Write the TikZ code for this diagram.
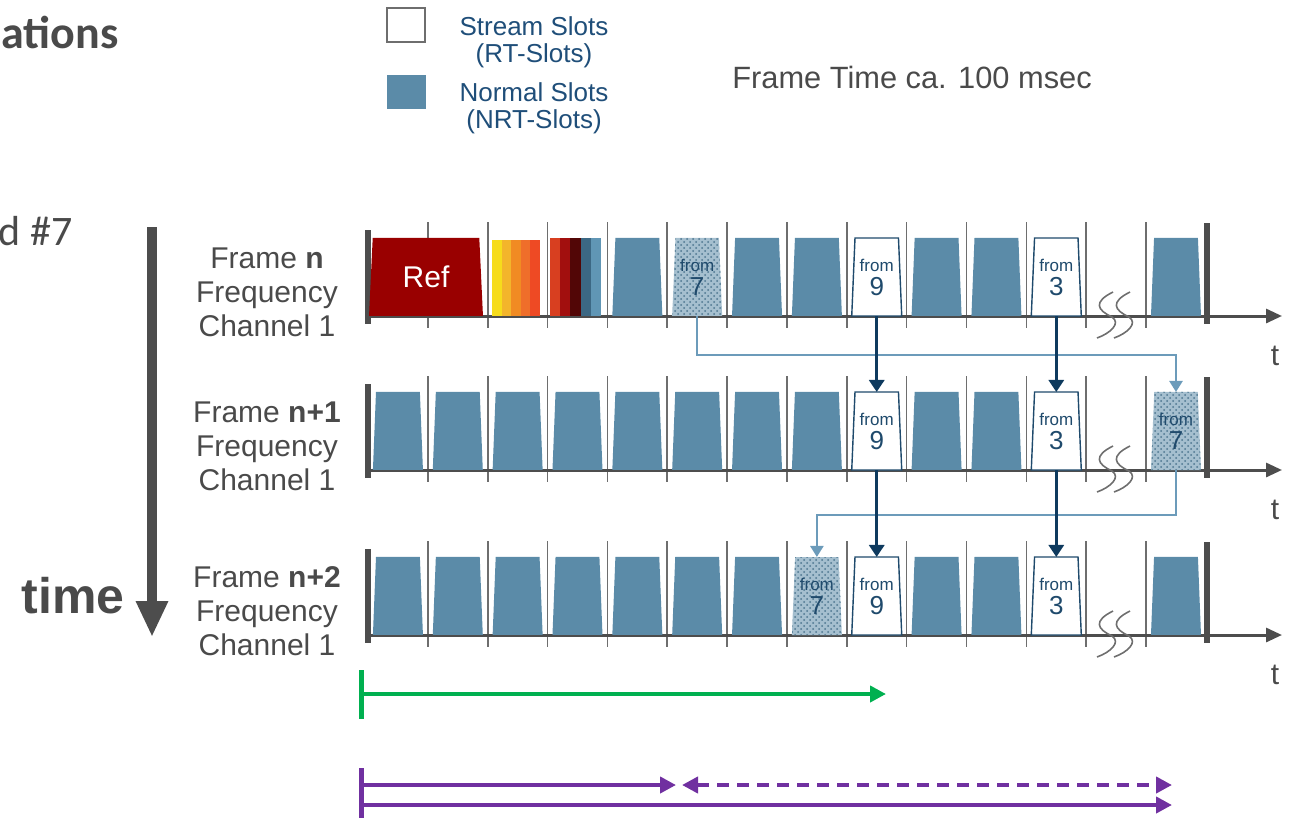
\documentclass[tikz,border=0pt]{standalone}
\usepackage{fontspec}
\setmainfont{Liberation Sans}
\newfontfamily\slidefont{Carlito}
\usepackage{tikz}
\usetikzlibrary{arrows.meta,calc,positioning,shapes.geometric,patterns}
\usepackage{xcolor}

\definecolor{slotblue}{HTML}{5B8BA8}
\definecolor{streamnavy}{HTML}{1F4A6C}
\definecolor{arrownavy}{HTML}{0E3A5E}
\definecolor{movedblue}{HTML}{6C9BBA}
\definecolor{legendtext}{HTML}{1F4E79}
\definecolor{labelgray}{HTML}{4A4A4A}
\definecolor{axisgray}{HTML}{4D4D4D}
\definecolor{tickgray}{HTML}{6E6E6E}
\definecolor{refred}{HTML}{990000}
\definecolor{spangreen}{HTML}{00B050}
\definecolor{spanpurple}{HTML}{7030A0}
\definecolor{heatA}{HTML}{F6DC1B}
\definecolor{heatB}{HTML}{F3B52B}
\definecolor{heatC}{HTML}{F18B23}
\definecolor{heatD}{HTML}{EF6E2A}
\definecolor{heatE}{HTML}{EE4A24}
\definecolor{heatF}{HTML}{D83F20}
\definecolor{heatG}{HTML}{A20F0E}
\definecolor{heatH}{HTML}{520606}
\definecolor{heatI}{HTML}{3C6884}
\definecolor{heatJ}{HTML}{6096B5}

\newcommand{\fromtxt}[1]{from\\{\fontsize{13}{12}\selectfont #1}}

\begin{document}
\begin{tikzpicture}[x=0.5pt,y=-0.5pt,>=Stealth,
  slot/.style={trapezium,trapezium left angle=86,trapezium right angle=86,
    trapezium stretches=true,minimum width=25pt,minimum height=39pt,
    inner sep=0.5pt,outer sep=0pt,anchor=south},
  nrt/.style={slot,fill=slotblue},
  rt/.style={slot,draw=streamnavy,line width=0.7pt,fill=white,
    text=streamnavy,align=center,font=\fontsize{8.5}{12}\selectfont},
  moved/.style={slot,preaction={fill=slotblue!55},pattern=crosshatch dots,
    pattern color=slotblue!85!black,text=streamnavy,align=center,
    font=\fontsize{8.5}{12}\selectfont},
  divider/.style={draw=tickgray,line width=0.8pt},
  axisline/.style={draw=axisgray,line width=1.5pt,-{Triangle[width=7pt,length=8pt]}},
  endbar/.style={draw=axisgray,line width=2.8pt},
  breakmark/.style={draw=tickgray,line width=0.8pt},
  rowlabel/.style={align=center,text=labelgray,font=\fontsize{15}{17}\selectfont},
  streamarrow/.style={draw=arrownavy,line width=1.6pt,-{Triangle[width=7.5pt,length=6pt]}},
  movedarrow/.style={draw=movedblue,line width=1.2pt,-{Triangle[width=6.5pt,length=5.5pt]}},
  legendtxt/.style={align=center,text=legendtext,font=\fontsize{13}{13.5}\selectfont},
  span/.style={draw=spanpurple,line width=2.3pt}]

\useasboundingbox (0,0) rectangle (1304,818);

% slide text
\node[anchor=base west,inner sep=0pt,text=labelgray,font=\slidefont\bfseries\fontsize{23}{23}\selectfont] (title) at (1,49) {ations};
\node[anchor=base east,inner sep=0pt,text=labelgray,font=\slidefont\fontsize{21}{21}\selectfont] (field) at (73,245) {d \#7};
\node[anchor=base east,inner sep=0pt,text=labelgray,font=\bfseries\fontsize{25}{25}\selectfont] (timetxt) at (125,613) {time};

% legend
\node[draw=tickgray,line width=1pt,fill=white,minimum width=19pt,minimum height=17pt,inner sep=0pt] (keyrt) at (406,25) {};
\node[fill=slotblue,minimum width=19.5pt,minimum height=17pt,inner sep=0pt] (keynrt) at (406.5,92) {};
\node[legendtxt] (keyrttxt) at (534,42) {Stream Slots\\(RT-Slots)};
\node[legendtxt] (keynrttxt) at (534,108) {Normal Slots\\(NRT-Slots)};
\node[text=labelgray,font=\fontsize{15.4}{17}\selectfont] (frametime) at (912,77) {Frame Time ca. 100 msec};

% time axis
\coordinate (timetop) at (152,227);
\coordinate (timetip) at (152,637);
\draw[axisgray,line width=5pt,-{Triangle[width=15pt,length=18pt]}] (timetop) -- (timetip);

% three frames
\foreach \r/\Y/\lbl in {0/316/n, 1/470/n+1, 2/635/n+2}{%
  \foreach \k in {1,...,13}
    \draw[divider] ({368+59.85*\k},\Y-94) -- ({368+59.85*\k},\Y+12);
  \draw[axisline] (368,\Y) -- (1282,\Y);
  \draw[endbar] (368,\Y-86) -- (368,\Y+8);
  \draw[endbar] (1207,\Y-93) -- (1207,\Y+8);
  \node[rowlabel] (lbl\r) at (267,\Y-24) {Frame \textbf{\lbl}\\Frequency\\Channel 1};
  \node[text=labelgray,font=\fontsize{15}{17}\selectfont] (t\r) at (1275,\Y+40) {t};
  \foreach \bx in {1097,1114}
    \draw[breakmark] (\bx+16,\Y-24) .. controls (\bx-4,\Y-14) and (\bx,\Y-6) .. (\bx+15,\Y+1)
      .. controls (\bx+24,\Y+7) and (\bx+14,\Y+17) .. (\bx,\Y+22);
}

% frame n
\node[slot,fill=refred,minimum width=57pt,text=white,font=\fontsize{15}{15}\selectfont] (ref) at (426,316) {Ref};
\foreach \x/\c in {492/heatA,501.6/heatB,511.2/heatC,520.8/heatD,530.4/heatE}
  \fill[\c] (\x,240) rectangle ++(9.6,76);
\foreach \x/\c in {550/heatF,560.2/heatG,570.4/heatH,580.6/heatI,590.8/heatJ}
  \fill[\c] (\x,238) rectangle ++(10.2,78);
\foreach \k in {4,6,7,9,10,13}
  \node[nrt] (s0-\k) at ({368+59.85*(\k+0.5)},316) {};
\node[moved] (m7a) at ({368+59.85*5.5},316) {\fromtxt{7}};
\node[rt] (r9a) at ({368+59.85*8.5},316) {\fromtxt{9}};
\node[rt] (r3a) at ({368+59.85*11.5},316) {\fromtxt{3}};

% frame n+1
\foreach \k in {0,...,7,9,10}
  \node[nrt] (s1-\k) at ({368+59.85*(\k+0.5)},470) {};
\node[rt] (r9b) at ({368+59.85*8.5},470) {\fromtxt{9}};
\node[rt] (r3b) at ({368+59.85*11.5},470) {\fromtxt{3}};
\node[moved] (m7b) at ({368+59.85*13.5},470) {\fromtxt{7}};

% frame n+2
\foreach \k in {0,...,6,9,10,13}
  \node[nrt] (s2-\k) at ({368+59.85*(\k+0.5)},635) {};
\node[moved] (m7c) at ({368+59.85*7.5},635) {\fromtxt{7}};
\node[rt] (r9c) at ({368+59.85*8.5},635) {\fromtxt{9}};
\node[rt] (r3c) at ({368+59.85*11.5},635) {\fromtxt{3}};

% slot moves between frames
\draw[movedarrow] (m7a.south) -- ++(0,39) -| (m7b.north);
\draw[movedarrow] (m7b.south) -- ++(0,45) -| (m7c.north);
\draw[streamarrow] (r9a.south) -- (r9b.north);
\draw[streamarrow] (r3a.south) -- (r3b.north);
\draw[streamarrow] (r9b.south) -- (r9c.north);
\draw[streamarrow] (r3b.south) -- (r3c.north);

% spans
\coordinate (gs) at (361,694);
\coordinate (ge) at (886,694);
\draw[spangreen,line width=2.5pt] (361,670) -- (361,719);
\draw[spangreen,line width=2pt,-{Triangle[width=8pt,length=8pt]}] (gs) -- (ge);

\coordinate (ps) at (361,785);
\coordinate (pm) at (676,785);
\coordinate (pd) at (682,785);
\coordinate (pe) at (1172,785);
\coordinate (qs) at (361,805);
\coordinate (qe) at (1172,805);
\draw[spanpurple,line width=2.5pt] (361,768) -- (361,818);
\draw[span,-{Triangle[width=8pt,length=8pt]}] (ps) -- (pm);
\draw[span,dash pattern=on 6pt off 4pt,{Triangle[width=8pt,length=8pt]}-{Triangle[width=8pt,length=8pt]}] (pd) -- (pe);
\draw[span,-{Triangle[width=8pt,length=8pt]}] (qs) -- (qe);

\end{tikzpicture}
\end{document}
